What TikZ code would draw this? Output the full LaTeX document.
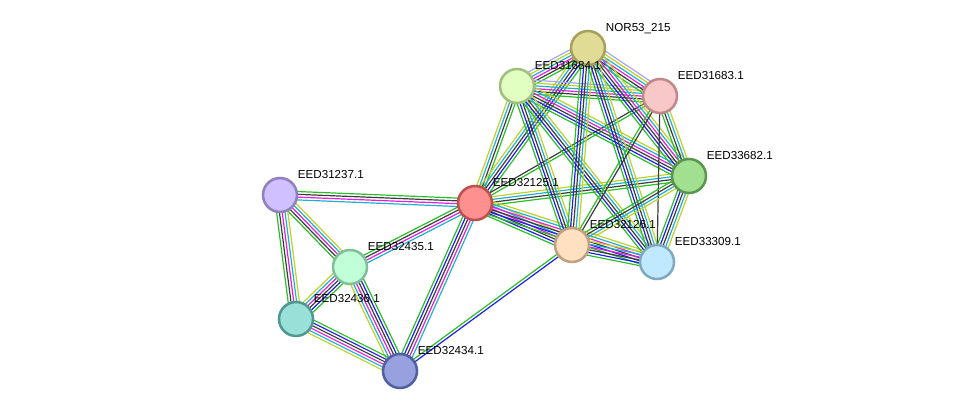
\documentclass[tikz,border=0pt]{standalone}
\usepackage{fontspec}
\setmainfont{Liberation Sans}
\usetikzlibrary{calc,backgrounds}

% evidence channels
\definecolor{neigh}{RGB}{40,190,40}
\definecolor{cooc}{RGB}{30,30,235}
\definecolor{coexp}{RGB}{60,60,60}
\definecolor{exper}{RGB}{225,30,225}
\definecolor{datab}{RGB}{30,175,210}
\definecolor{textm}{RGB}{190,210,40}
\definecolor{homol}{RGB}{165,165,255}

\tikzset{
  prot/.style={circle, line width=1.9pt, minimum size=25.5pt, inner sep=0pt},
  tag/.style={anchor=base west, inner sep=0pt, xshift=3.6pt, yshift=3pt,
    font=\fontsize{8.7}{10}\selectfont},
}

% parallel coloured lines between two nodes
\newcommand{\bundle}[3]{%
  \foreach \c [count=\n] in {#3} {\xdef\bundlen{\n}}%
  \foreach \c [count=\i] in {#3} {%
    \pgfmathsetmacro{\off}{(\i-(\bundlen+1)/2)*2.1}%
    \draw[\c, line width=0.9pt] ($(#1.center)!\off pt!90:(#2.center)$) -- ($(#2.center)!\off pt!-90:(#1.center)$);
  }}

\begin{document}
\begin{tikzpicture}[x=0.75pt, y=-0.75pt]
    \useasboundingbox (0,0) rectangle (975,417);
    \node[prot, fill={rgb,255:red,224;green,220;blue,150}, draw={rgb,255:red,165;green,160;blue,90}, label={[tag]45:NOR53\_215}] (nor) at (588,48) {};
    \node[prot, fill={rgb,255:red,224;green,255;blue,192}, draw={rgb,255:red,160;green,192;blue,128}, label={[tag]45:EED31684.1}] (e31684) at (517,86) {};
    \node[prot, fill={rgb,255:red,248;green,200;blue,200}, draw={rgb,255:red,192;green,136;blue,136}, label={[tag]45:EED31683.1}] (e31683) at (660,96) {};
    \node[prot, fill={rgb,255:red,160;green,224;blue,144}, draw={rgb,255:red,90;green,150;blue,80}, label={[tag]45:EED33682.1}] (e33682) at (689,176) {};
    \node[prot, fill={rgb,255:red,255;green,144;blue,144}, draw={rgb,255:red,192;green,80;blue,80}, label={[tag]45:EED32125.1}] (e32125) at (475,203) {};
    \node[prot, fill={rgb,255:red,255;green,224;blue,192}, draw={rgb,255:red,192;green,160;blue,128}, label={[tag]45:EED32126.1}] (e32126) at (572,245) {};
    \node[prot, fill={rgb,255:red,192;green,232;blue,255}, draw={rgb,255:red,128;green,168;blue,192}, label={[tag]45:EED33309.1}] (e33309) at (657,262) {};
    \node[prot, fill={rgb,255:red,208;green,192;blue,255}, draw={rgb,255:red,144;green,128;blue,192}, label={[tag]45:EED31237.1}] (e31237) at (280,195) {};
    \node[prot, fill={rgb,255:red,192;green,255;blue,216}, draw={rgb,255:red,128;green,192;blue,152}, label={[tag]45:EED32435.1}] (e32435) at (350,267) {};
    \node[prot, fill={rgb,255:red,152;green,224;blue,216}, draw={rgb,255:red,80;green,152;blue,144}, label={[tag]45:EED32436.1}] (e32436) at (296,319) {};
    \node[prot, fill={rgb,255:red,152;green,160;blue,224}, draw={rgb,255:red,80;green,96;blue,160}, label={[tag]45:EED32434.1}] (e32434) at (400,371) {};
    \begin{scope}[on background layer]
    % left group
    \bundle{e32125}{e31237}{neigh,coexp,exper,datab}
    \bundle{e31237}{e32435}{neigh,coexp,exper,datab,textm}
    \bundle{e31237}{e32436}{neigh,coexp,exper,datab,textm}
    \bundle{e32436}{e32435}{neigh,cooc,coexp,exper,datab,textm}
    \bundle{e32434}{e32435}{neigh,cooc,coexp,exper,datab,textm}
    \bundle{e32434}{e32436}{neigh,cooc,coexp,exper,datab,textm}
    \bundle{e32125}{e32435}{neigh,coexp,exper,datab}
    \bundle{e32125}{e32434}{neigh,cooc,coexp,exper,datab}
    \bundle{e32126}{e32434}{neigh,cooc}
    % right group
    \bundle{e32125}{e31684}{neigh,coexp,datab,textm}
    \bundle{e32125}{nor}{neigh,cooc,coexp,datab,textm}
    \bundle{e32125}{e31683}{neigh,coexp}
    \bundle{e32125}{e33682}{neigh,coexp,datab,textm}
    \bundle{e32125}{e32126}{neigh,cooc,coexp,exper,datab,textm}
    \bundle{e32125}{e33309}{neigh,cooc,coexp,exper,datab,textm}
    \bundle{e31684}{nor}{neigh,coexp,exper,datab,textm,homol}
    \bundle{e31684}{e31683}{neigh,coexp,exper,datab,textm,homol}
    \bundle{e31684}{e33682}{neigh,cooc,coexp,exper,datab,textm}
    \bundle{e31684}{e32126}{neigh,cooc,coexp,datab,textm}
    \bundle{e31684}{e33309}{neigh,cooc,coexp,datab,textm}
    \bundle{nor}{e31683}{neigh,coexp,exper,datab,textm,homol}
    \bundle{nor}{e33682}{neigh,cooc,coexp,exper,datab,textm}
    \bundle{nor}{e32126}{neigh,cooc,coexp,datab,textm}
    \bundle{nor}{e33309}{neigh,cooc,coexp,datab,textm}
    \bundle{e31683}{e33682}{neigh,coexp,datab,textm}
    \bundle{e31683}{e32126}{neigh,coexp}
    \bundle{e31683}{e33309}{coexp}
    \bundle{e33682}{e32126}{neigh,coexp,datab,textm}
    \bundle{e33682}{e33309}{neigh,cooc,coexp,datab,textm}
    \bundle{e32126}{e33309}{neigh,cooc,coexp,exper,datab,textm}
    \end{scope}
\end{tikzpicture}
\end{document}
